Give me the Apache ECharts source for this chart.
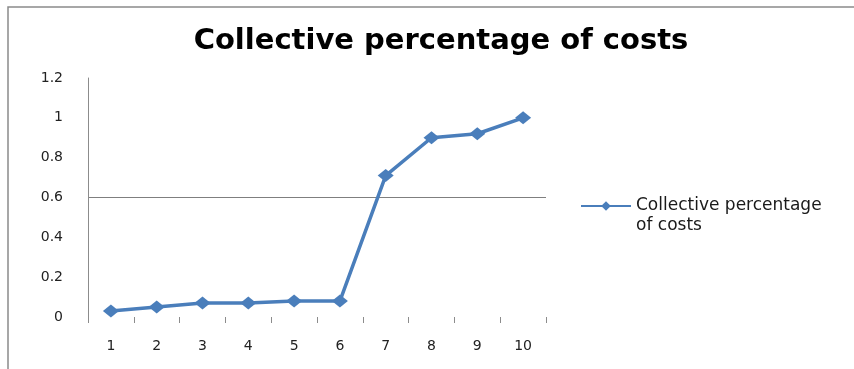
<!DOCTYPE html>
<html>
<head>
<meta charset="utf-8">
<script src="https://cdn.jsdelivr.net/npm/echarts@6/dist/echarts.min.js"></script>
<style>
  html, body { margin: 0; padding: 0; background: #fff; }
  #chart { width: 854px; height: 369px; }
</style>
</head>
<body>
<div id="chart"></div>
<script>
// Step number along the x axis
const categories = ['1', '2', '3', '4', '5', '6', '7', '8', '9', '10'];
// Running share of total cost at each step
const collectiveCosts = [0.03, 0.05, 0.07, 0.07, 0.08, 0.08, 0.71, 0.90, 0.92, 1.0];
const seriesName = 'Collective percentage of costs';
const chartTitle = 'Collective percentage of costs';

const chart = echarts.init(document.getElementById('chart'), null, { renderer: 'canvas' });

const axisGray = '#8c8c8c';
const lineBlue = '#4a7ebb';
const labelFont = 'DejaVu Sans';

chart.setOption({
  animation: false,
  backgroundColor: '#ffffff',
  graphic: [{
    type: 'rect',
    shape: { x: 8, y: 7, width: 900, height: 400 },
    style: { fill: 'none', stroke: '#8a8a8a', lineWidth: 1.5 },
    silent: true
  }],
  title: {
    text: chartTitle,
    left: 436,
    top: 22,
    textAlign: 'center',
    textStyle: { fontFamily: labelFont, fontWeight: 'bold', fontSize: 29, color: '#000' }
  },
  grid: { left: 88, top: 78, right: 308, bottom: 52, containLabel: false },
  legend: {
    left: 580,
    top: 176,
    padding: 0,
    itemWidth: 50,
    itemHeight: 12,
    data: [seriesName],
    // leading blank line keeps the first text line level with the legend symbol
    formatter: () => '\nCollective percentage\nof costs',
    textStyle: { fontFamily: labelFont, fontSize: 17, color: '#1a1a1a', lineHeight: 20 }
  },
  xAxis: {
    type: 'category',
    data: categories,
    boundaryGap: true,
    axisLine: { show: false },
    axisTick: { show: true, length: 6, lineStyle: { color: axisGray, width: 1 } },
    axisLabel: { margin: 22, fontFamily: labelFont, fontSize: 14, color: '#222' },
    splitLine: { show: false }
  },
  yAxis: {
    type: 'value',
    min: 0,
    max: 1.2,
    interval: 0.2,
    axisLine: { show: true, lineStyle: { color: axisGray, width: 1 } },
    axisTick: { show: false },
    axisLabel: { margin: 25, fontFamily: labelFont, fontSize: 14, color: '#222' },
    splitLine: {
      show: true,
      lineStyle: {
        color: ['transparent', 'transparent', 'transparent', '#7f7f7f', 'transparent', 'transparent', 'transparent'],
        width: 1
      }
    }
  },
  series: [{
    name: seriesName,
    type: 'line',
    data: collectiveCosts,
    symbol: 'diamond',
    symbolSize: [16, 13],
    lineStyle: { color: lineBlue, width: 3.5 },
    itemStyle: { color: lineBlue },
    z: 3
  }]
});
</script>
</body>
</html>
